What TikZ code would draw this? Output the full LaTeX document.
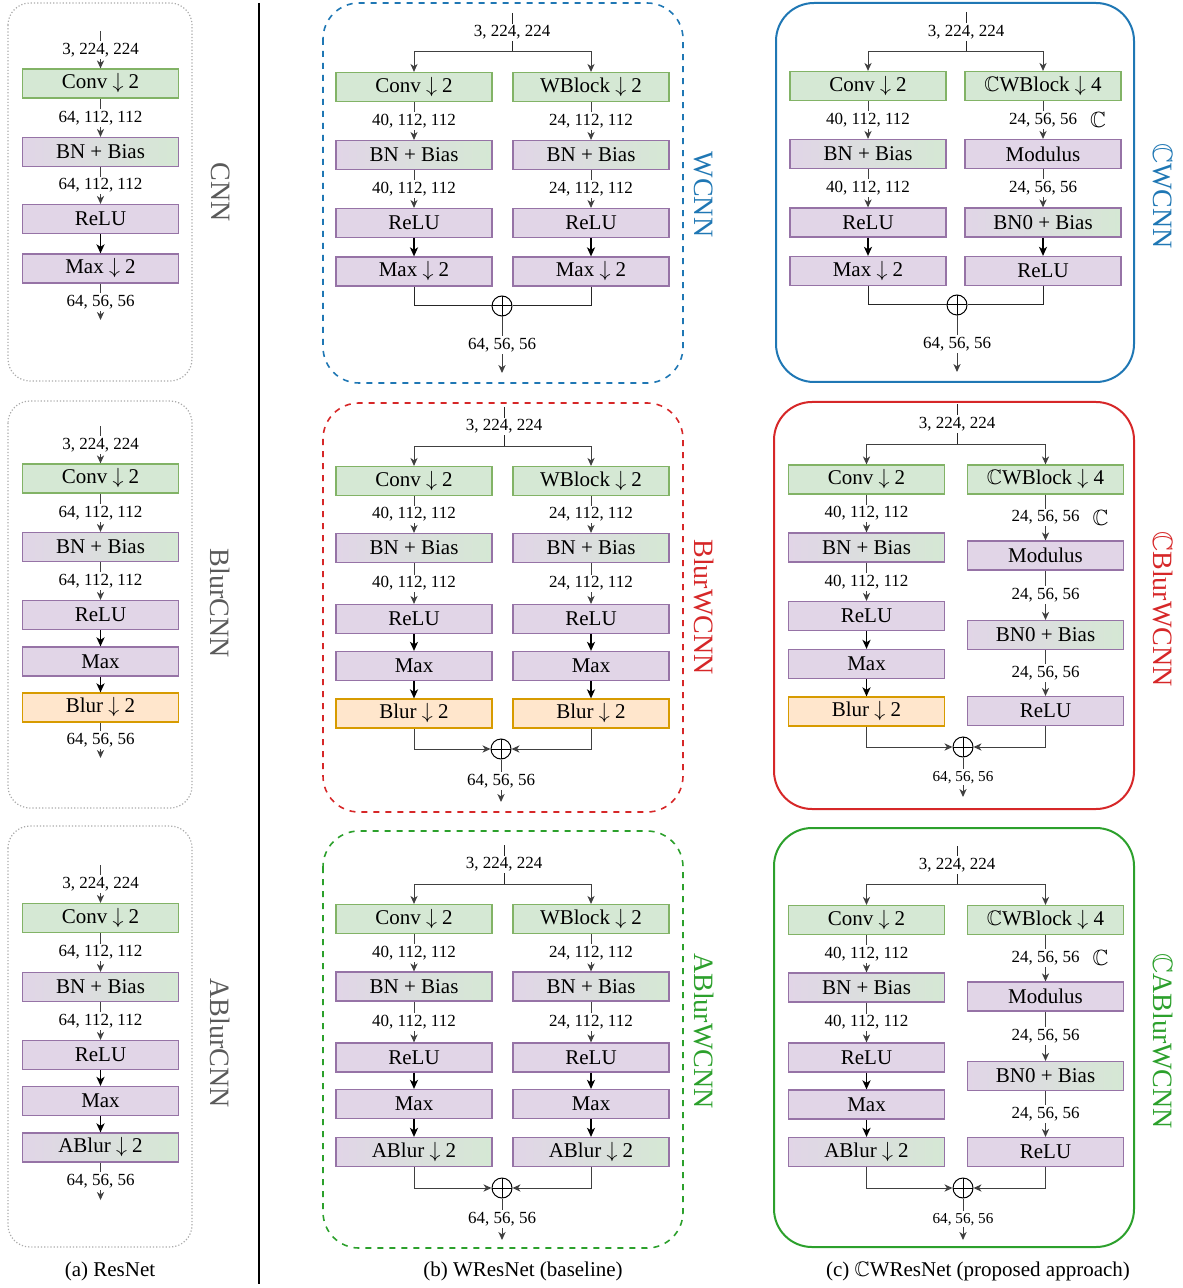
\documentclass[tikz,border=0pt]{standalone}
\usepackage{amsmath}
\usepackage{amssymb}
\usepackage{fontspec}
\setmainfont{Liberation Serif}
\usepackage{tikz}
\usetikzlibrary{arrows.meta}

\definecolor{grnfill}{HTML}{D5E8D4}
\definecolor{grnline}{HTML}{82B366}
\definecolor{purfill}{HTML}{E1D5E7}
\definecolor{purline}{HTML}{9673A6}
\definecolor{orgfill}{HTML}{FFE6CC}
\definecolor{orgline}{HTML}{D79B00}
\definecolor{tabblue}{HTML}{1F77B4}
\definecolor{tabred}{HTML}{D62728}
\definecolor{tabgreen}{HTML}{2CA02C}
\definecolor{framegray}{HTML}{AAAAAA}
\definecolor{namegray}{HTML}{5A5A5A}

\begin{document}
\begin{tikzpicture}[x=0.5pt,y=-0.5pt,
	box/.style={minimum width=78pt,minimum height=14.5pt,inner sep=0pt,line width=0.6pt,font=\fontsize{10.5}{12}\selectfont},
	grnbox/.style={box,draw=grnline,fill=grnfill},
	purbox/.style={box,draw=purline,fill=purfill},
	mixbox/.style={box,draw=purline,left color=purfill,right color=grnfill},
	orgbox/.style={box,draw=orgline,fill=orgfill},
	dim/.style={fill=white,inner sep=1pt,font=\fontsize{8.5}{10}\selectfont},
	dimsmall/.style={fill=white,inner sep=1pt,font=\fontsize{7.6}{9}\selectfont},
	cplx/.style={label={[inner sep=0pt,xshift=5pt,font=\fontsize{11}{13}\selectfont]right:$\mathbb{C}$}},
	link/.style={draw=black!75,line width=0.5pt,-{Stealth[length=4pt,width=3.6pt,inset=1.2pt]}},
	strong/.style={draw=black,line width=0.9pt,-{Stealth[length=4.5pt,width=4pt,inset=1.2pt]}},
	wire/.style={draw=black!85,line width=0.5pt},
	sumnode/.style={circle,draw,line width=0.5pt,minimum size=10pt,inner sep=0pt,
		path picture={\draw (path picture bounding box.north) -- (path picture bounding box.south)
			(path picture bounding box.west) -- (path picture bounding box.east);}},
	aframe/.style={draw=framegray,densely dotted,line width=0.6pt,rounded corners=11pt},
	bframe/.style={dashed,line width=0.8pt,rounded corners=18pt},
	cframe/.style={line width=1pt,rounded corners=19pt},
	sidename/.style={rotate=-90,font=\fontsize{14}{16}\selectfont},
	caption/.style={font=\fontsize{10.5}{12}\selectfont}]

	\useasboundingbox (0,0) rectangle (1182,1288);

	% (a) ResNet
	\draw[aframe] (8,3) rectangle (192,381);
	\draw[aframe] (8,401) rectangle (192,808);
	\draw[aframe] (8,826) rectangle (192,1247);

	% CNN
	\coordinate (a1in) at (100.5,31);
	\node[grnbox] (a1c) at (100.5,83.5) {Conv $\downarrow$ 2};
	\node[mixbox] (a1b) at (100.5,152) {BN + Bias};
	\node[purbox] (a1r) at (100.5,219) {ReLU};
	\node[purbox] (a1m) at (100.5,268.5) {Max $\downarrow$ 2};
	\coordinate (a1out) at (100.5,320);
	\draw[link] (a1in) -- (a1c) node[dim,midway] {3, 224, 224};
	\draw[link] (a1c) -- (a1b) node[dim,midway] {64, 112, 112};
	\draw[link] (a1b) -- (a1r) node[dim,midway] {64, 112, 112};
	\draw[strong] (a1r) -- (a1m);
	\draw[link] (a1m) -- (a1out) node[dim,midway] {64, 56, 56};
	\node[sidename,text=namegray] (a1name) at (220.5,192.5) {CNN};

	% BlurCNN
	\coordinate (a2in) at (100.5,426);
	\node[grnbox] (a2c) at (100.5,478.5) {Conv $\downarrow$ 2};
	\node[mixbox] (a2b) at (100.5,547) {BN + Bias};
	\node[purbox] (a2r) at (100.5,615) {ReLU};
	\node[purbox] (a2m) at (100.5,661.5) {Max};
	\node[orgbox] (a2p) at (100.5,707.5) {Blur $\downarrow$ 2};
	\coordinate (a2out) at (100.5,758);
	\draw[link] (a2in) -- (a2c) node[dim,midway] {3, 224, 224};
	\draw[link] (a2c) -- (a2b) node[dim,midway] {64, 112, 112};
	\draw[link] (a2b) -- (a2r) node[dim,midway] {64, 112, 112};
	\draw[strong] (a2r) -- (a2m);
	\draw[strong] (a2m) -- (a2p);
	\draw[link] (a2p) -- (a2out) node[dim,midway] {64, 56, 56};
	\node[sidename,text=namegray] (a2name) at (220.5,603) {BlurCNN};

	% ABlurCNN
	\coordinate (a3in) at (100.5,865);
	\node[grnbox] (a3c) at (100.5,918) {Conv $\downarrow$ 2};
	\node[mixbox] (a3b) at (100.5,987) {BN + Bias};
	\node[purbox] (a3r) at (100.5,1055) {ReLU};
	\node[purbox] (a3m) at (100.5,1101) {Max};
	\node[mixbox] (a3p) at (100.5,1147.5) {ABlur $\downarrow$ 2};
	\coordinate (a3out) at (100.5,1200);
	\draw[link] (a3in) -- (a3c) node[dim,midway] {3, 224, 224};
	\draw[link] (a3c) -- (a3b) node[dim,midway] {64, 112, 112};
	\draw[link] (a3b) -- (a3r) node[dim,midway] {64, 112, 112};
	\draw[strong] (a3r) -- (a3m);
	\draw[strong] (a3m) -- (a3p);
	\draw[link] (a3p) -- (a3out) node[dim,midway] {64, 56, 56};
	\node[sidename,text=namegray] (a3name) at (220.5,1043) {ABlurCNN};

	\node[caption] (acap) at (110,1271) {(a) ResNet};

	\draw[line width=0.6pt] (259,3) -- (259,1284);

	% (b) WResNet
	\draw[bframe,tabblue] (323,3) rectangle (683,383);
	\draw[bframe,tabred] (323,403) rectangle (683,812);
	\draw[bframe,tabgreen] (323,831) rectangle (683,1248);

	% WCNN
	\coordinate (b1in) at (512,13);
	\coordinate (b1sp) at (512,52);
	\node[grnbox] (b1l1) at (414,87) {Conv $\downarrow$ 2};
	\node[mixbox] (b1l2) at (414,155) {BN + Bias};
	\node[purbox] (b1l3) at (414,223) {ReLU};
	\node[purbox] (b1l4) at (414,271.5) {Max $\downarrow$ 2};
	\node[grnbox] (b1r1) at (591,87) {WBlock $\downarrow$ 2};
	\node[mixbox] (b1r2) at (591,155) {BN + Bias};
	\node[purbox] (b1r3) at (591,223) {ReLU};
	\node[purbox] (b1r4) at (591,271.5) {Max $\downarrow$ 2};
	\node[sumnode] (b1sum) at (502,306) {};
	\coordinate (b1out) at (502,373);
	\draw[wire] (b1in) -- (b1sp) node[dim,midway] {3, 224, 224};
	\draw[link] (b1sp) -| (b1l1);
	\draw[link] (b1sp) -| (b1r1);
	\draw[link] (b1l1) -- (b1l2) node[dim,midway] {40, 112, 112};
	\draw[link] (b1l2) -- (b1l3) node[dim,midway] {40, 112, 112};
	\draw[strong] (b1l3) -- (b1l4);
	\draw[link] (b1r1) -- (b1r2) node[dim,midway] {24, 112, 112};
	\draw[link] (b1r2) -- (b1r3) node[dim,midway] {24, 112, 112};
	\draw[strong] (b1r3) -- (b1r4);
	\draw[wire] (b1l4) |- (b1sum);
	\draw[wire] (b1r4) |- (b1sum);
	\draw[link] (b1sum) -- (b1out) node[dim,midway] {64, 56, 56};
	\node[sidename,text=tabblue] (b1name) at (704,194.5) {WCNN};

	% BlurWCNN
	\coordinate (b2in) at (504,407);
	\coordinate (b2sp) at (504,446);
	\node[grnbox] (b2l1) at (414,481) {Conv $\downarrow$ 2};
	\node[mixbox] (b2l2) at (414,548) {BN + Bias};
	\node[purbox] (b2l3) at (414,619) {ReLU};
	\node[purbox] (b2l4) at (414,666) {Max};
	\node[orgbox] (b2l5) at (414,713.5) {Blur $\downarrow$ 2};
	\node[grnbox] (b2r1) at (591,481) {WBlock $\downarrow$ 2};
	\node[mixbox] (b2r2) at (591,548) {BN + Bias};
	\node[purbox] (b2r3) at (591,619) {ReLU};
	\node[purbox] (b2r4) at (591,666) {Max};
	\node[orgbox] (b2r5) at (591,713.5) {Blur $\downarrow$ 2};
	\node[sumnode] (b2sum) at (501,749) {};
	\coordinate (b2out) at (501,802);
	\draw[wire] (b2in) -- (b2sp) node[dim,midway] {3, 224, 224};
	\draw[link] (b2sp) -| (b2l1);
	\draw[link] (b2sp) -| (b2r1);
	\draw[link] (b2l1) -- (b2l2) node[dim,midway] {40, 112, 112};
	\draw[link] (b2l2) -- (b2l3) node[dim,midway] {40, 112, 112};
	\draw[strong] (b2l3) -- (b2l4);
	\draw[strong] (b2l4) -- (b2l5);
	\draw[link] (b2r1) -- (b2r2) node[dim,midway] {24, 112, 112};
	\draw[link] (b2r2) -- (b2r3) node[dim,midway] {24, 112, 112};
	\draw[strong] (b2r3) -- (b2r4);
	\draw[strong] (b2r4) -- (b2r5);
	\draw[link] (b2l5) |- (b2sum);
	\draw[link] (b2r5) |- (b2sum);
	\draw[link] (b2sum) -- (b2out) node[dim,midway] {64, 56, 56};
	\node[sidename,text=tabred] (b2name) at (704,607) {BlurWCNN};

	% ABlurWCNN
	\coordinate (b3in) at (504,845);
	\coordinate (b3sp) at (504,884);
	\node[grnbox] (b3l1) at (414,919) {Conv $\downarrow$ 2};
	\node[mixbox] (b3l2) at (414,986.5) {BN + Bias};
	\node[purbox] (b3l3) at (414,1057.5) {ReLU};
	\node[purbox] (b3l4) at (414,1104) {Max};
	\node[mixbox] (b3l5) at (414,1152) {ABlur $\downarrow$ 2};
	\node[grnbox] (b3r1) at (591,919) {WBlock $\downarrow$ 2};
	\node[mixbox] (b3r2) at (591,986.5) {BN + Bias};
	\node[purbox] (b3r3) at (591,1057.5) {ReLU};
	\node[purbox] (b3r4) at (591,1104) {Max};
	\node[mixbox] (b3r5) at (591,1152) {ABlur $\downarrow$ 2};
	\node[sumnode] (b3sum) at (502,1188) {};
	\coordinate (b3out) at (502,1240);
	\draw[wire] (b3in) -- (b3sp) node[dim,midway] {3, 224, 224};
	\draw[link] (b3sp) -| (b3l1);
	\draw[link] (b3sp) -| (b3r1);
	\draw[link] (b3l1) -- (b3l2) node[dim,midway] {40, 112, 112};
	\draw[link] (b3l2) -- (b3l3) node[dim,midway] {40, 112, 112};
	\draw[strong] (b3l3) -- (b3l4);
	\draw[strong] (b3l4) -- (b3l5);
	\draw[link] (b3r1) -- (b3r2) node[dim,midway] {24, 112, 112};
	\draw[link] (b3r2) -- (b3r3) node[dim,midway] {24, 112, 112};
	\draw[strong] (b3r3) -- (b3r4);
	\draw[strong] (b3r4) -- (b3r5);
	\draw[link] (b3l5) |- (b3sum);
	\draw[link] (b3r5) |- (b3sum);
	\draw[link] (b3sum) -- (b3out) node[dim,midway] {64, 56, 56};
	\node[sidename,text=tabgreen] (b3name) at (704,1031) {ABlurWCNN};

	\node[caption] (bcap) at (523,1271) {(b) WResNet (baseline)};

	% (c) CWResNet
	\draw[cframe,tabblue] (776,3) rectangle (1134,382);
	\draw[cframe,tabred] (774,402) rectangle (1134,809);
	\draw[cframe,tabgreen] (774,828) rectangle (1134,1247);

	% CWCNN
	\coordinate (c1in) at (966,12);
	\coordinate (c1sp) at (966,52);
	\node[grnbox] (c1l1) at (868,86) {Conv $\downarrow$ 2};
	\node[mixbox] (c1l2) at (868,154) {BN + Bias};
	\node[purbox] (c1l3) at (868,222.5) {ReLU};
	\node[purbox] (c1l4) at (868,271) {Max $\downarrow$ 2};
	\node[grnbox] (c1r1) at (1043,86) {$\mathbb{C}$WBlock $\downarrow$ 4};
	\node[purbox] (c1r2) at (1043,154) {Modulus};
	\node[mixbox] (c1r3) at (1043,222.5) {BN0 + Bias};
	\node[purbox] (c1r4) at (1043,271) {ReLU};
	\node[sumnode] (c1sum) at (957,305) {};
	\coordinate (c1out) at (957,372);
	\draw[wire] (c1in) -- (c1sp) node[dim,midway] {3, 224, 224};
	\draw[link] (c1sp) -| (c1l1);
	\draw[link] (c1sp) -| (c1r1);
	\draw[link] (c1l1) -- (c1l2) node[dim,midway] {40, 112, 112};
	\draw[link] (c1l2) -- (c1l3) node[dim,midway] {40, 112, 112};
	\draw[strong] (c1l3) -- (c1l4);
	\draw[link] (c1r1) -- (c1r2) node[dim,cplx,midway] {24, 56, 56};
	\draw[link] (c1r2) -- (c1r3) node[dim,midway] {24, 56, 56};
	\draw[strong] (c1r3) -- (c1r4);
	\draw[wire] (c1l4) |- (c1sum);
	\draw[wire] (c1r4) |- (c1sum);
	\draw[link] (c1sum) -- (c1out) node[dim,midway] {64, 56, 56};
	\node[sidename,text=tabblue] (c1name) at (1163,196) {$\mathbb{C}$WCNN};

	% CBlurWCNN
	\coordinate (c2in) at (957,404);
	\coordinate (c2sp) at (957,444);
	\node[grnbox] (c2l1) at (866.5,479.5) {Conv $\downarrow$ 2};
	\node[mixbox] (c2l2) at (866.5,547.5) {BN + Bias};
	\node[purbox] (c2l3) at (866.5,616) {ReLU};
	\node[purbox] (c2l4) at (866.5,664) {Max};
	\node[orgbox] (c2l5) at (866.5,711.5) {Blur $\downarrow$ 2};
	\node[grnbox] (c2r1) at (1045.5,479.5) {$\mathbb{C}$WBlock $\downarrow$ 4};
	\node[purbox] (c2r2) at (1045.5,555.5) {Modulus};
	\node[mixbox] (c2r3) at (1045.5,635) {BN0 + Bias};
	\node[purbox] (c2r4) at (1045.5,711) {ReLU};
	\node[sumnode] (c2sum) at (963,747) {};
	\coordinate (c2out) at (963,797);
	\draw[wire] (c2in) -- (c2sp) node[dim,midway] {3, 224, 224};
	\draw[link] (c2sp) -| (c2l1);
	\draw[link] (c2sp) -| (c2r1);
	\draw[link] (c2l1) -- (c2l2) node[dim,midway] {40, 112, 112};
	\draw[link] (c2l2) -- (c2l3) node[dim,midway] {40, 112, 112};
	\draw[strong] (c2l3) -- (c2l4);
	\draw[strong] (c2l4) -- (c2l5);
	\draw[link] (c2r1) -- (c2r2) node[dim,cplx,midway] {24, 56, 56};
	\draw[link] (c2r2) -- (c2r3) node[dim,midway] {24, 56, 56};
	\draw[link] (c2r3) -- (c2r4) node[dim,midway] {24, 56, 56};
	\draw[link] (c2l5) |- (c2sum);
	\draw[link] (c2r4) |- (c2sum);
	\draw[link] (c2sum) -- (c2out) node[dimsmall,midway] {64, 56, 56};
	\node[sidename,text=tabred] (c2name) at (1163,609) {$\mathbb{C}$BlurWCNN};

	% CABlurWCNN
	\coordinate (c3in) at (957,846);
	\coordinate (c3sp) at (957,884);
	\node[grnbox] (c3l1) at (866.5,920) {Conv $\downarrow$ 2};
	\node[mixbox] (c3l2) at (866.5,987.5) {BN + Bias};
	\node[purbox] (c3l3) at (866.5,1057.5) {ReLU};
	\node[purbox] (c3l4) at (866.5,1104.5) {Max};
	\node[mixbox] (c3l5) at (866.5,1152) {ABlur $\downarrow$ 2};
	\node[grnbox] (c3r1) at (1045.5,920) {$\mathbb{C}$WBlock $\downarrow$ 4};
	\node[purbox] (c3r2) at (1045.5,996.5) {Modulus};
	\node[mixbox] (c3r3) at (1045.5,1076) {BN0 + Bias};
	\node[purbox] (c3r4) at (1045.5,1152) {ReLU};
	\node[sumnode] (c3sum) at (963,1188) {};
	\coordinate (c3out) at (963,1240);
	\draw[wire] (c3in) -- (c3sp) node[dim,midway] {3, 224, 224};
	\draw[link] (c3sp) -| (c3l1);
	\draw[link] (c3sp) -| (c3r1);
	\draw[link] (c3l1) -- (c3l2) node[dim,midway] {40, 112, 112};
	\draw[link] (c3l2) -- (c3l3) node[dim,midway] {40, 112, 112};
	\draw[strong] (c3l3) -- (c3l4);
	\draw[strong] (c3l4) -- (c3l5);
	\draw[link] (c3r1) -- (c3r2) node[dim,cplx,midway] {24, 56, 56};
	\draw[link] (c3r2) -- (c3r3) node[dim,midway] {24, 56, 56};
	\draw[link] (c3r3) -- (c3r4) node[dim,midway] {24, 56, 56};
	\draw[link] (c3l5) |- (c3sum);
	\draw[link] (c3r4) |- (c3sum);
	\draw[link] (c3sum) -- (c3out) node[dimsmall,midway] {64, 56, 56};
	\node[sidename,text=tabgreen] (c3name) at (1163,1041) {$\mathbb{C}$ABlurWCNN};

	\node[caption] (ccap) at (978,1271) {(c) $\mathbb{C}$WResNet (proposed approach)};
\end{tikzpicture}
\end{document}
